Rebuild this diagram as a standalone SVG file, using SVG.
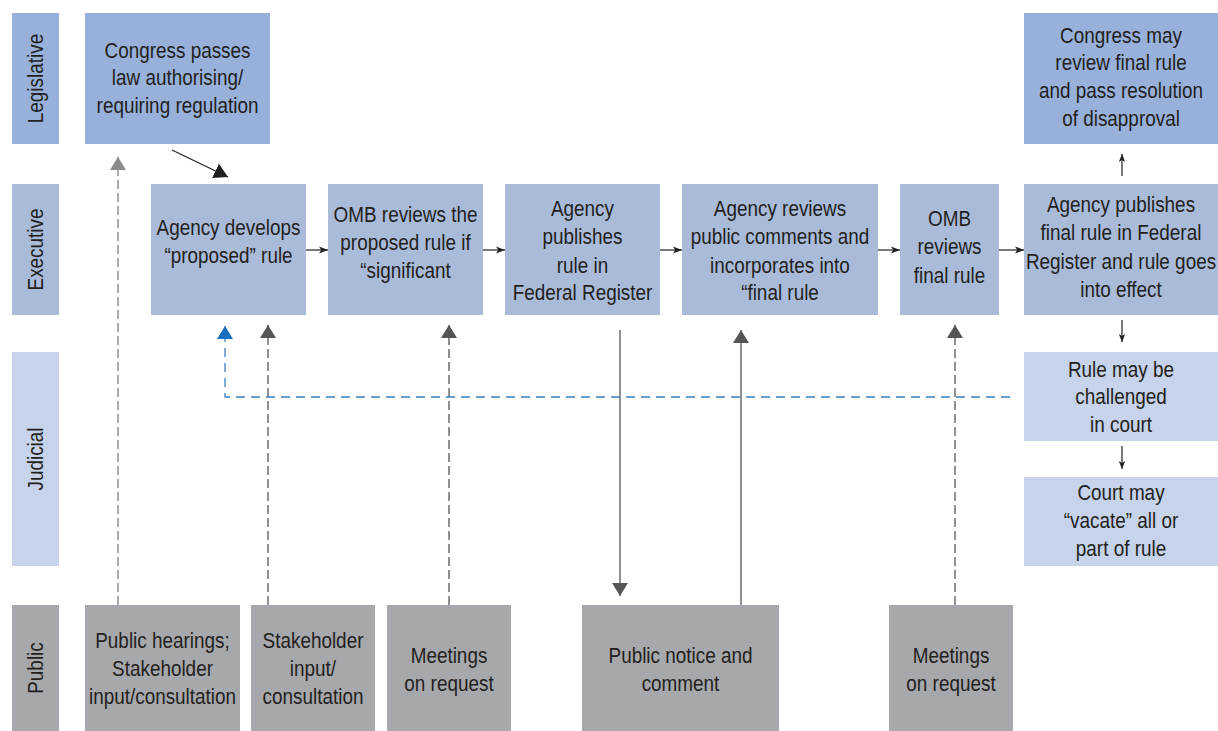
<svg xmlns="http://www.w3.org/2000/svg" width="1218" height="731" viewBox="0 0 1218 731">
<style>
.t{font-family:"Liberation Sans",Arial,sans-serif;font-size:22px;fill:#231f20;text-anchor:middle}
.leg{fill:#98b1db}
.exe{fill:#aabbda}
.jud{fill:#c6d3eb}
.pub{fill:#a7a8ab}
.ln{fill:none;stroke:#231f20;stroke-width:1.2}
.dg{fill:none;stroke:#555;stroke-width:1.3;stroke-dasharray:9 4}
.dl{fill:none;stroke:#808080;stroke-width:1.3;stroke-dasharray:9 4}
.sg{fill:none;stroke:#555;stroke-width:1.3}
.db{fill:none;stroke:#3a7fc0;stroke-width:1.3;stroke-dasharray:9 6}
</style>
<defs>
<marker id="ah" viewBox="0 0 10 10" refX="10" refY="5" markerWidth="9" markerHeight="9" markerUnits="userSpaceOnUse" orient="auto"><path d="M0,1 L10,5 L0,9 L2.5,5 z" fill="#231f20"/></marker>
<marker id="ahs" viewBox="0 0 10 10" refX="10" refY="5" markerWidth="8" markerHeight="8" markerUnits="userSpaceOnUse" orient="auto"><path d="M0,1 L10,5 L0,9 L2.5,5 z" fill="#231f20"/></marker>
<marker id="big" viewBox="0 0 14 16" refX="14" refY="8" markerWidth="14" markerHeight="16" markerUnits="userSpaceOnUse" orient="auto"><path d="M0,0 L14,8 L0,16 z" fill="#231f20"/></marker>
<marker id="gd" viewBox="0 0 13 16" refX="13" refY="8" markerWidth="13" markerHeight="16" markerUnits="userSpaceOnUse" orient="auto"><path d="M0,0 L13,8 L0,16 z" fill="#555"/></marker>
<marker id="gl" viewBox="0 0 13 16" refX="13" refY="8" markerWidth="13" markerHeight="16" markerUnits="userSpaceOnUse" orient="auto"><path d="M0,0 L13,8 L0,16 z" fill="#8a8a8a"/></marker>
<marker id="bl" viewBox="0 0 13 16" refX="13" refY="8" markerWidth="13" markerHeight="16" markerUnits="userSpaceOnUse" orient="auto"><path d="M0,0 L13,8 L0,16 z" fill="#1a6fc0"/></marker>
</defs>
<rect width="1218" height="731" fill="#fff"/>

<g id="lanes">
<g id="lane-legislative"><rect class="leg" x="12" y="13" width="47" height="131"/><text class="t" transform="translate(35 78.5) rotate(-90) scale(0.86 1)" y="7.5">Legislative</text></g>
<g id="lane-executive"><rect class="exe" x="12" y="184" width="47" height="131"/><text class="t" transform="translate(35 249.5) rotate(-90) scale(0.86 1)" y="7.5">Executive</text></g>
<g id="lane-judicial"><rect class="jud" x="12" y="352" width="47" height="214"/><text class="t" transform="translate(35 459) rotate(-90) scale(0.86 1)" y="7.5">Judicial</text></g>
<g id="lane-public"><rect class="pub" x="12" y="605" width="47" height="126"/><text class="t" transform="translate(35 668) rotate(-90) scale(0.86 1)" y="7.5">Public</text></g>
</g>

<g id="connectors">
<line class="ln" x1="172" y1="150" x2="228" y2="177" marker-end="url(#big)"/>
<line class="ln" x1="306" y1="250" x2="328" y2="250" marker-end="url(#ah)"/>
<line class="ln" x1="483" y1="250" x2="505" y2="250" marker-end="url(#ah)"/>
<line class="ln" x1="660" y1="250" x2="682" y2="250" marker-end="url(#ah)"/>
<line class="ln" x1="878" y1="250" x2="900" y2="250" marker-end="url(#ah)"/>
<line class="ln" x1="999" y1="250" x2="1024" y2="250" marker-end="url(#ah)"/>
<line class="ln" x1="1122" y1="176" x2="1122" y2="154" marker-end="url(#ahs)"/>
<line class="ln" x1="1122" y1="320" x2="1122" y2="342" marker-end="url(#ahs)"/>
<line class="ln" x1="1122" y1="446" x2="1122" y2="469" marker-end="url(#ahs)"/>
<line class="dl" x1="118" y1="605" x2="118" y2="157" marker-end="url(#gl)"/>
<line class="dg" x1="268" y1="605" x2="268" y2="325" marker-end="url(#gd)"/>
<line class="dg" x1="449" y1="605" x2="449" y2="325" marker-end="url(#gd)"/>
<line class="dg" x1="955" y1="605" x2="955" y2="325" marker-end="url(#gd)"/>
<line class="sg" x1="741" y1="605" x2="741" y2="330" marker-end="url(#gd)"/>
<line class="sg" x1="620" y1="330" x2="620" y2="596" marker-end="url(#gd)"/>
<path class="db" d="M1010,397 H225 V326" marker-end="url(#bl)"/>
</g>

<g id="n-congress-passes"><rect class="leg" x="85" y="13" width="185" height="131"/>
<text class="t" transform="translate(177.5 0) scale(0.86 1)"><tspan x="0" y="58">Congress passes</tspan><tspan x="0" y="85.5">law authorising/</tspan><tspan x="0" y="113">requiring regulation</tspan></text></g>

<g id="n-agency-develops"><rect class="exe" x="151" y="184" width="155" height="131"/>
<text class="t" transform="translate(228.5 0) scale(0.86 1)"><tspan x="0" y="235.5">Agency develops</tspan><tspan x="0" y="263">“proposed” rule</tspan></text></g>

<g id="n-omb-proposed"><rect class="exe" x="328" y="184" width="155" height="131"/>
<text class="t" transform="translate(405.5 0) scale(0.86 1)"><tspan x="0" y="222.5">OMB reviews the</tspan><tspan x="0" y="250.5">proposed rule if</tspan><tspan x="0" y="278">“significant</tspan></text></g>

<g id="n-agency-publishes"><rect class="exe" x="505" y="184" width="155" height="131"/>
<text class="t" transform="translate(582.5 0) scale(0.86 1)"><tspan x="0" y="216.5">Agency</tspan><tspan x="0" y="244.5">publishes</tspan><tspan x="0" y="273">rule in</tspan><tspan x="0" y="300.5">Federal Register</tspan></text></g>

<g id="n-agency-reviews"><rect class="exe" x="682" y="184" width="196" height="131"/>
<text class="t" transform="translate(780 0) scale(0.86 1)"><tspan x="0" y="216.5">Agency reviews</tspan><tspan x="0" y="244.5">public comments and</tspan><tspan x="0" y="273">incorporates into</tspan><tspan x="0" y="300.5">“final rule</tspan></text></g>

<g id="n-omb-final"><rect class="exe" x="900" y="184" width="99" height="131"/>
<text class="t" transform="translate(949.5 0) scale(0.86 1)"><tspan x="0" y="226.5">OMB</tspan><tspan x="0" y="254.5">reviews</tspan><tspan x="0" y="283">final rule</tspan></text></g>

<g id="n-publish-final"><rect class="exe" x="1024" y="184" width="194" height="131"/>
<text class="t" transform="translate(1121 0) scale(0.86 1)"><tspan x="0" y="212.5">Agency publishes</tspan><tspan x="0" y="240.5">final rule in Federal</tspan><tspan x="0" y="269">Register and rule goes</tspan><tspan x="0" y="297">into effect</tspan></text></g>

<g id="n-congress-review"><rect class="leg" x="1024" y="13" width="194" height="131"/>
<text class="t" transform="translate(1121 0) scale(0.86 1)"><tspan x="0" y="43.5">Congress may</tspan><tspan x="0" y="70.5">review final rule</tspan><tspan x="0" y="98.5">and pass resolution</tspan><tspan x="0" y="126.5">of disapproval</tspan></text></g>

<g id="n-challenged"><rect class="jud" x="1024" y="352" width="194" height="89"/>
<text class="t" transform="translate(1121 0) scale(0.86 1)"><tspan x="0" y="377.5">Rule may be</tspan><tspan x="0" y="404.5">challenged</tspan><tspan x="0" y="432.5">in court</tspan></text></g>

<g id="n-vacate"><rect class="jud" x="1024" y="477" width="194" height="89"/>
<text class="t" transform="translate(1121 0) scale(0.86 1)"><tspan x="0" y="500.5">Court may</tspan><tspan x="0" y="528.5">“vacate” all or</tspan><tspan x="0" y="556.5">part of rule</tspan></text></g>

<g id="n-public-hearings"><rect class="pub" x="85" y="605" width="155" height="126"/>
<text class="t" transform="translate(162.5 0) scale(0.86 1)"><tspan x="0" y="648.5">Public hearings;</tspan><tspan x="0" y="676.5">Stakeholder</tspan><tspan x="0" y="704.5">input/consultation</tspan></text></g>

<g id="n-stakeholder"><rect class="pub" x="251" y="605" width="124" height="126"/>
<text class="t" transform="translate(313 0) scale(0.86 1)"><tspan x="0" y="648.5">Stakeholder</tspan><tspan x="0" y="676.5">input/</tspan><tspan x="0" y="704.5">consultation</tspan></text></g>

<g id="n-meetings-1"><rect class="pub" x="387" y="605" width="124" height="126"/>
<text class="t" transform="translate(449 0) scale(0.86 1)"><tspan x="0" y="663.5">Meetings</tspan><tspan x="0" y="691.5">on request</tspan></text></g>

<g id="n-public-notice"><rect class="pub" x="582" y="605" width="197" height="126"/>
<text class="t" transform="translate(680.5 0) scale(0.86 1)"><tspan x="0" y="663.5">Public notice and</tspan><tspan x="0" y="691.5">comment</tspan></text></g>

<g id="n-meetings-2"><rect class="pub" x="889" y="605" width="124" height="126"/>
<text class="t" transform="translate(951 0) scale(0.86 1)"><tspan x="0" y="663.5">Meetings</tspan><tspan x="0" y="691.5">on request</tspan></text></g>
</svg>
